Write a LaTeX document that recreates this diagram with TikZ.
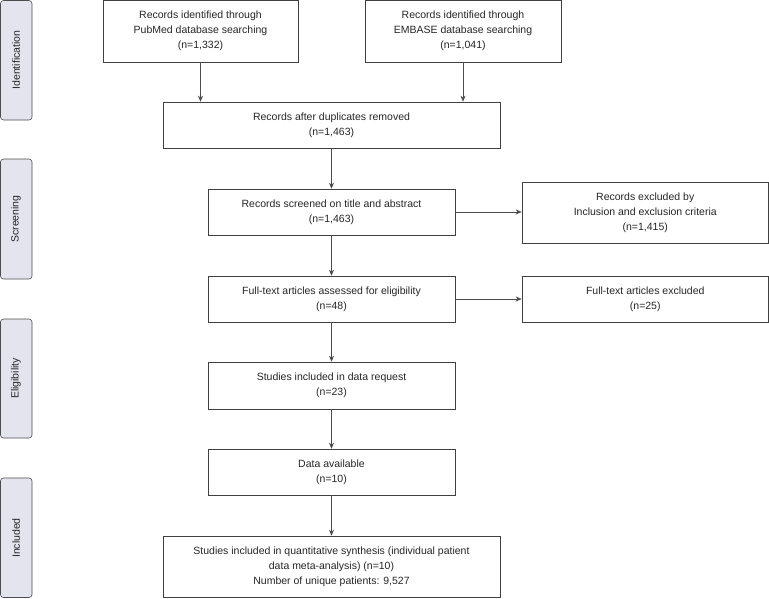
\documentclass[tikz,border=0pt]{standalone}
\usepackage{fontspec}
\setmainfont{Liberation Sans}
\usetikzlibrary{arrows.meta}
\begin{document}
\begin{tikzpicture}[x=1pt,y=-1pt,
 box/.style={draw=black!75,line width=0.6pt,fill=white,align=center,inner sep=0pt},
 side/.style={draw=black!70,line width=0.6pt,fill=lavender,rounded corners=3pt},
 arr/.style={draw=black!70,line width=0.6pt,-{Stealth[length=6pt,width=5pt]},shorten >=0pt},
 font=\fontsize{10.5}{15}\selectfont\color{black!85}]
\definecolor{lavender}{HTML}{E4E4EE}
\useasboundingbox (0,0) rectangle (769,598);
\newcommand{\mybox}[6]{\node[box,minimum width=#4-#2,minimum height=#5-#3] (#1) at ({(#2+#4)/2},{(#3+#5)/2}) {#6};}
\mybox{b1}{103}{0.5}{298}{62}{Records identified through\\PubMed database searching\\(n=1,332)}
\mybox{b2}{365}{0.5}{561}{62}{Records identified through\\EMBASE database searching\\(n=1,041)}
\mybox{b3}{163}{102}{500}{148}{Records after duplicates removed\\(n=1,463)}
\mybox{b4}{208}{189}{455}{235}{Records screened on title and abstract\\(n=1,463)}
\mybox{e1}{522}{182}{768.5}{243}{Records excluded by\\Inclusion and exclusion criteria\\(n=1,415)}
\mybox{b5}{208}{276}{455}{322}{Full-text articles assessed for eligibility\\(n=48)}
\mybox{e2}{522}{276}{768.5}{322}{Full-text articles excluded\\(n=25)}
\mybox{b6}{208}{362}{455}{409}{Studies included in data request\\(n=23)}
\mybox{b7}{208}{449}{455}{495}{Data available\\(n=10)}
\mybox{b8}{163}{536}{500}{597.5}{Studies included in quantitative synthesis (individual patient\\data meta-analysis) (n=10)\\Number of unique patients: 9,527}
\foreach \n/\a/\b in {s1/0.5/120,s2/159/279,s3/319/438,s4/478/597.5}{
 \draw[side] (0.5,\a) rectangle (32,\b);}
\node[rotate=90] (l1) at (16,60) {Identification};
\node[rotate=90] (l2) at (16,219) {Screening};
\node[rotate=90] (l3) at (16,378.5) {Eligibility};
\node[rotate=90] (l4) at (16,538) {Included};
\draw[arr] (b1.south) -- (b1.south |- b3.north);
\draw[arr] (b2.south) -- (b2.south |- b3.north);
\draw[arr] (b3) -- (b4);
\draw[arr] (b4) -- (b5);
\draw[arr] (b5) -- (b6);
\draw[arr] (b6) -- (b7);
\draw[arr] (b7) -- (b8);
\draw[arr] (b4.east) -- (b4.east -| e1.west);
\draw[arr] (b5.east) -- (e2.west);
\end{tikzpicture}
\end{document}
